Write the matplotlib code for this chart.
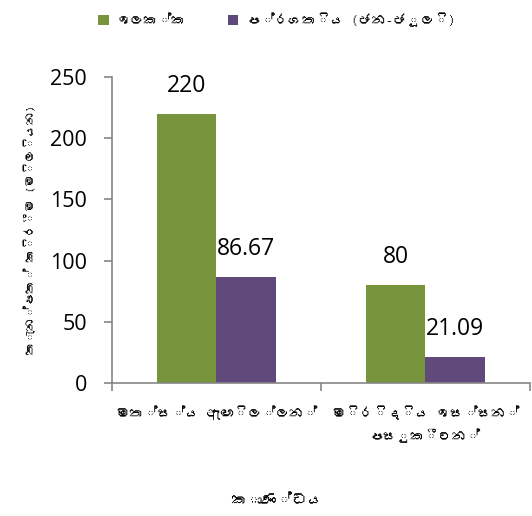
import numpy as np
import matplotlib
matplotlib.use('Agg')
from matplotlib import pyplot as plt
from matplotlib import font_manager as fm
from matplotlib.ft2font import FT2Font


def find_sinhala_font():
    # look for any installed font with Sinhala glyphs
    for f in fm.findSystemFonts():
        try:
            cmap = FT2Font(f).get_charmap()
        except Exception:
            continue
        if 0x0D9A in cmap and 0x0DCA in cmap:
            return fm.FontProperties(fname=f).get_name()
    return None


categories = ['මත්ස්ය ඇඟිල්ලන්', 'මිරිදිය ඉස්සන්\nපසුකීටන්']
target     = [220, 80]
progress   = [86.67, 21.09]
labels     = ['ඉලක්ක', 'ප්රගතිය (ජන-ජූලි)']
ylabel     = 'තැන්පත් කිරීම (මිලියන)'
xlabel     = 'කාණ්ඩය'

si = find_sinhala_font()
plt.rcParams['font.family'] = ([si] if si else []) + ['Open Sans', 'DejaVu Sans']
num_font = ['Open Sans', 'DejaVu Sans']

colors = ['#77933C', '#604A7B']
gray   = '#868686'

fig = plt.figure(figsize=(5.32, 5.16), dpi=100)
ax  = fig.add_axes([0.2105, 0.2578, 0.7855, 0.593])

x = np.arange(len(categories)) + 0.5
w = 0.285
b1 = ax.bar(x - w/2, target, w, color=colors[0], label=labels[0])
b2 = ax.bar(x + w/2, progress, w, color=colors[1], label=labels[1])
for bars, vals in [(b1, target), (b2, progress)]:
    for r, v in zip(bars, vals):
        ax.text(r.get_x() + r.get_width()/2, v + 13, f'{v:g}', ha='center', va='bottom',
                fontsize=16.5, family=num_font)

ax.set_xlim(0, 2)
ax.set_ylim(0, 250)
ax.set_yticks(np.arange(0, 251, 50))
ax.set_yticklabels([str(v) for v in range(0, 251, 50)], fontsize=15.5, family=num_font)
ax.set_xticks([0, 1, 2])
ax.set_xticklabels([])
ax.set_xticks(x, minor=True)
ax.set_xticklabels(categories, minor=True, fontsize=10, linespacing=1.7)
ax.tick_params(axis='x', which='minor', length=0, pad=16)
ax.tick_params(axis='x', which='major', length=6, color=gray, width=1.2)
ax.tick_params(axis='y', length=6, color=gray, width=1.2, pad=12)

for s in ['top', 'right']:
    ax.spines[s].set_visible(False)
for s in ['left', 'bottom']:
    ax.spines[s].set_color(gray)
    ax.spines[s].set_linewidth(1.2)

ax.set_ylabel(ylabel, fontsize=9, fontweight='bold', labelpad=10)
fig.text(0.52, 0.02, xlabel, ha='center', fontsize=11, fontweight='bold')

fig.legend(loc='upper center', bbox_to_anchor=(0.52, 1.0), ncol=2, frameon=False,
           fontsize=10, handlelength=0.75, handleheight=0.75, columnspacing=3.0, handletextpad=0.6)

fig.savefig('out.png', dpi=100)
